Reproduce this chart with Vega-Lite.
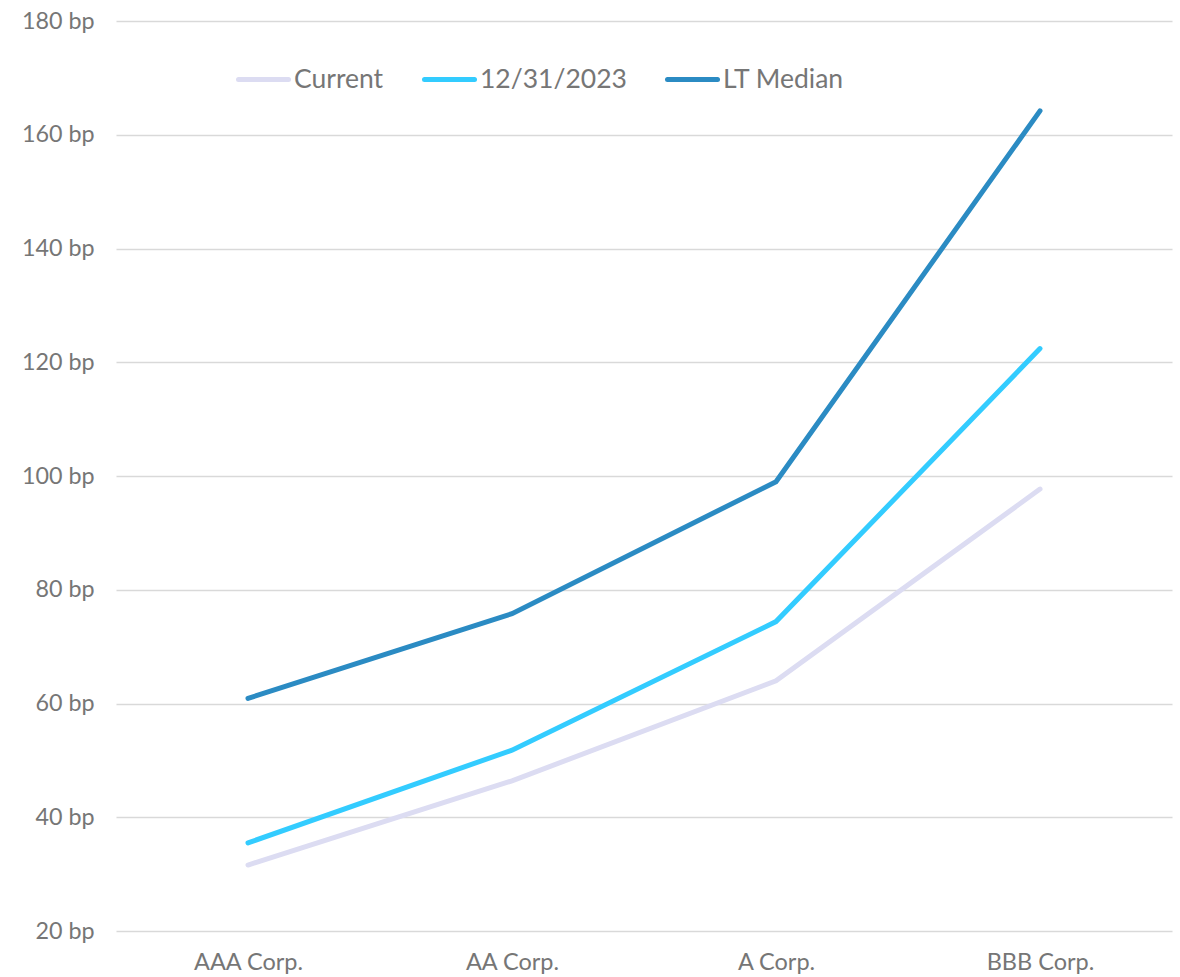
{
  "$schema": "https://vega.github.io/schema/vega-lite/v6.json",
  "autosize": "none",
  "width": 1056,
  "height": 910,
  "padding": {"left": 116, "top": 21, "right": 8, "bottom": 46},
  "background": "white",
  "config": {
    "font": "Lato",
    "view": {"stroke": null}
  },
  "data": {
    "values": [
      {"rating": "AAA Corp.", "series": "Current", "spread": 31.6},
      {"rating": "AA Corp.", "series": "Current", "spread": 46.4},
      {"rating": "A Corp.", "series": "Current", "spread": 64.0},
      {"rating": "BBB Corp.", "series": "Current", "spread": 97.7},
      {"rating": "AAA Corp.", "series": "12/31/2023", "spread": 35.5},
      {"rating": "AA Corp.", "series": "12/31/2023", "spread": 51.8},
      {"rating": "A Corp.", "series": "12/31/2023", "spread": 74.4},
      {"rating": "BBB Corp.", "series": "12/31/2023", "spread": 122.4},
      {"rating": "AAA Corp.", "series": "LT Median", "spread": 60.9},
      {"rating": "AA Corp.", "series": "LT Median", "spread": 75.8},
      {"rating": "A Corp.", "series": "LT Median", "spread": 99.0},
      {"rating": "BBB Corp.", "series": "LT Median", "spread": 164.2}
    ]
  },
  "mark": {"type": "line", "strokeWidth": 5, "strokeCap": "round"},
  "encoding": {
    "x": {
      "field": "rating",
      "type": "ordinal",
      "sort": ["AAA Corp.", "AA Corp.", "A Corp.", "BBB Corp."],
      "scale": {"type": "point", "padding": 0.5},
      "axis": {
        "title": null,
        "domain": false,
        "ticks": false,
        "grid": false,
        "labelAngle": 0,
        "labelFontSize": 23.5,
        "labelColor": "#767676",
        "labelPadding": 19
      }
    },
    "y": {
      "field": "spread",
      "type": "quantitative",
      "scale": {"domain": [20, 180], "nice": false, "zero": false},
      "axis": {
        "title": null,
        "values": [20, 40, 60, 80, 100, 120, 140, 160, 180],
        "labelExpr": "datum.value + ' bp'",
        "domain": false,
        "ticks": false,
        "grid": true,
        "gridColor": "#d9d9d9",
        "gridWidth": 1.5,
        "labelFontSize": 23.3,
        "labelColor": "#767676",
        "labelPadding": 22
      }
    },
    "color": {
      "field": "series",
      "type": "nominal",
      "sort": ["Current", "12/31/2023", "LT Median"],
      "scale": {
        "domain": ["Current", "12/31/2023", "LT Median"],
        "range": ["#dcdcf2", "#33ccff", "#2b8bc3"]
      },
      "legend": {
        "title": null,
        "orient": "none",
        "direction": "horizontal",
        "legendX": 120,
        "legendY": 31,
        "padding": 0,
        "symbolType": "stroke",
        "symbolSize": 2500,
        "symbolStrokeWidth": 5,
        "labelFontSize": 26.5,
        "labelColor": "#767676",
        "labelOffset": 3,
        "columnPadding": 30,
        "encode": {"symbols": {"update": {"strokeCap": {"value": "round"}}}}
      }
    }
  }
}
